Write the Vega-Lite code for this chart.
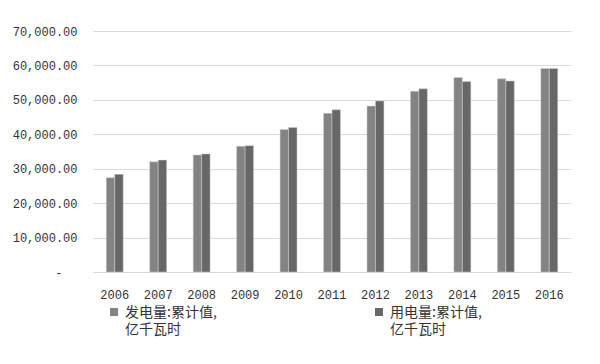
{
  "$schema": "https://vega.github.io/schema/vega-lite/v6.json",
  "width": 478,
  "height": 241,
  "autosize": {"type": "none"},
  "padding": {"left": 93, "top": 31, "right": 29, "bottom": 92},
  "background": "white",
  "config": {
    "view": {"stroke": null},
    "font": "Liberation Mono, Noto Sans CJK SC",
    "style": {"guide-label": {"lineHeight": 17, "dy": 5}},
    "axis": {"labelFont": "Liberation Mono, Noto Sans CJK SC", "labelFontSize": 12, "labelColor": "#333333"},
    "legend": {"labelFont": "Noto Sans CJK SC", "labelFontSize": 14, "labelColor": "#333333"}
  },
  "data": {
    "values": [
      {"year": "2006", "series": "发电量:累计值,亿千瓦时", "value": 27400},
      {"year": "2006", "series": "用电量:累计值,亿千瓦时", "value": 28400},
      {"year": "2007", "series": "发电量:累计值,亿千瓦时", "value": 32000},
      {"year": "2007", "series": "用电量:累计值,亿千瓦时", "value": 32500},
      {"year": "2008", "series": "发电量:累计值,亿千瓦时", "value": 34000},
      {"year": "2008", "series": "用电量:累计值,亿千瓦时", "value": 34300},
      {"year": "2009", "series": "发电量:累计值,亿千瓦时", "value": 36500},
      {"year": "2009", "series": "用电量:累计值,亿千瓦时", "value": 36700},
      {"year": "2010", "series": "发电量:累计值,亿千瓦时", "value": 41400},
      {"year": "2010", "series": "用电量:累计值,亿千瓦时", "value": 42000},
      {"year": "2011", "series": "发电量:累计值,亿千瓦时", "value": 46100},
      {"year": "2011", "series": "用电量:累计值,亿千瓦时", "value": 47100},
      {"year": "2012", "series": "发电量:累计值,亿千瓦时", "value": 48200},
      {"year": "2012", "series": "用电量:累计值,亿千瓦时", "value": 49700},
      {"year": "2013", "series": "发电量:累计值,亿千瓦时", "value": 52500},
      {"year": "2013", "series": "用电量:累计值,亿千瓦时", "value": 53200},
      {"year": "2014", "series": "发电量:累计值,亿千瓦时", "value": 56500},
      {"year": "2014", "series": "用电量:累计值,亿千瓦时", "value": 55300},
      {"year": "2015", "series": "发电量:累计值,亿千瓦时", "value": 56100},
      {"year": "2015", "series": "用电量:累计值,亿千瓦时", "value": 55500},
      {"year": "2016", "series": "发电量:累计值,亿千瓦时", "value": 59100},
      {"year": "2016", "series": "用电量:累计值,亿千瓦时", "value": 59100}
    ]
  },
  "mark": {"type": "bar", "stroke": "#d0d0d0", "strokeWidth": 0.5},
  "encoding": {
    "x": {
      "field": "year", "type": "nominal", "sort": null,
      "scale": {"paddingInner": 0.61, "paddingOuter": 0.305},
      "axis": {"title": null, "labelAngle": 0, "ticks": false, "domain": true, "domainColor": "#d9d9d9", "labelPadding": 12}
    },
    "xOffset": {"field": "series", "type": "nominal", "sort": null},
    "y": {
      "field": "value", "type": "quantitative",
      "scale": {"domain": [0, 70000], "nice": false},
      "axis": {
        "title": null, "values": [0, 10000, 20000, 30000, 40000, 50000, 60000, 70000],
        "ticks": false, "domain": false, "gridColor": "#d9d9d9", "gridWidth": 1,
        "labelPadding": {"condition": {"test": "datum.value === 0", "value": 31}, "value": 16},
        "labelOffset": -5,
        "labelExpr": "datum.value === 0 ? '-' : format(datum.value, ',.2f')"
      }
    },
    "color": {
      "field": "series", "type": "nominal", "sort": null,
      "scale": {"range": ["#838383", "#676767"]},
      "legend": {
        "title": null, "orient": "none", "direction": "horizontal",
        "legendX": 14, "legendY": 274,
        "symbolType": "square", "symbolSize": 64, "symbolStrokeWidth": 0,
        "columnPadding": 155, "labelOffset": 4, "labelLimit": 200,
        "labelBaseline": "alphabetic",
        "labelExpr": "[slice(datum.label, 0, 8), slice(datum.label, 8)]"
      }
    }
  }
}
